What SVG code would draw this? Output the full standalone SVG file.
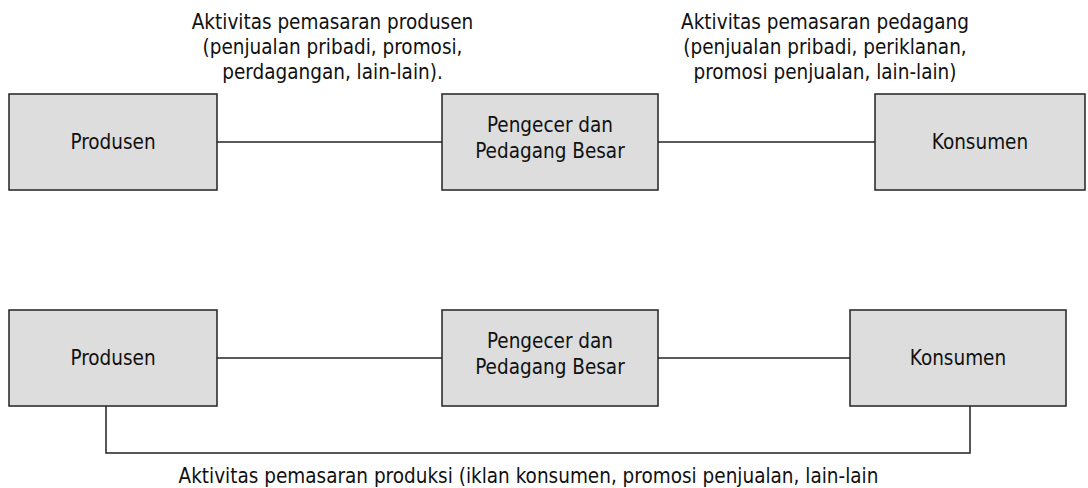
<svg xmlns="http://www.w3.org/2000/svg" width="1088" height="488" viewBox="0 0 1088 488">
<style>
.box{fill:#dddddd;stroke:#222222;stroke-width:1.5}
.ln{fill:none;stroke:#222222;stroke-width:1.5}
text{font-family:"DejaVu Sans Condensed","DejaVu Sans",sans-serif;font-size:20.5px;fill:#111111;text-anchor:middle}
</style>
<rect width="1088" height="488" fill="#ffffff"/>
<g id="connectors">
<line class="ln" x1="217" y1="142" x2="442" y2="142"/>
<line class="ln" x1="658" y1="142" x2="875" y2="142"/>
<line class="ln" x1="217" y1="358" x2="442" y2="358"/>
<line class="ln" x1="658" y1="358" x2="850" y2="358"/>
<polyline class="ln" points="106,406 106,453 970,453 970,406"/>
</g>
<g id="label-top-left">
<text x="332.5" y="29">Aktivitas pemasaran produsen</text>
<text x="332.5" y="54">(penjualan pribadi, promosi,</text>
<text x="332.5" y="79">perdagangan, lain-lain).</text>
</g>
<g id="label-top-right">
<text x="825" y="29">Aktivitas pemasaran pedagang</text>
<text x="825" y="54">(penjualan pribadi, periklanan,</text>
<text x="825" y="79">promosi penjualan, lain-lain)</text>
</g>
<g id="node-produsen-1">
<rect class="box" x="9" y="94" width="208" height="96"/>
<text x="113" y="149">Produsen</text>
</g>
<g id="node-pengecer-1">
<rect class="box" x="442" y="94" width="216" height="96"/>
<text x="550" y="132">Pengecer dan</text>
<text x="550" y="158">Pedagang Besar</text>
</g>
<g id="node-konsumen-1">
<rect class="box" x="875" y="94" width="210" height="96"/>
<text x="980" y="149">Konsumen</text>
</g>
<g id="node-produsen-2">
<rect class="box" x="9" y="310" width="208" height="96"/>
<text x="113" y="365">Produsen</text>
</g>
<g id="node-pengecer-2">
<rect class="box" x="442" y="310" width="216" height="96"/>
<text x="550" y="348">Pengecer dan</text>
<text x="550" y="374">Pedagang Besar</text>
</g>
<g id="node-konsumen-2">
<rect class="box" x="850" y="310" width="216" height="96"/>
<text x="958" y="365">Konsumen</text>
</g>
<g id="label-bottom">
<text x="528.5" y="483">Aktivitas pemasaran produksi (iklan konsumen, promosi penjualan, lain-lain</text>
</g>
</svg>
